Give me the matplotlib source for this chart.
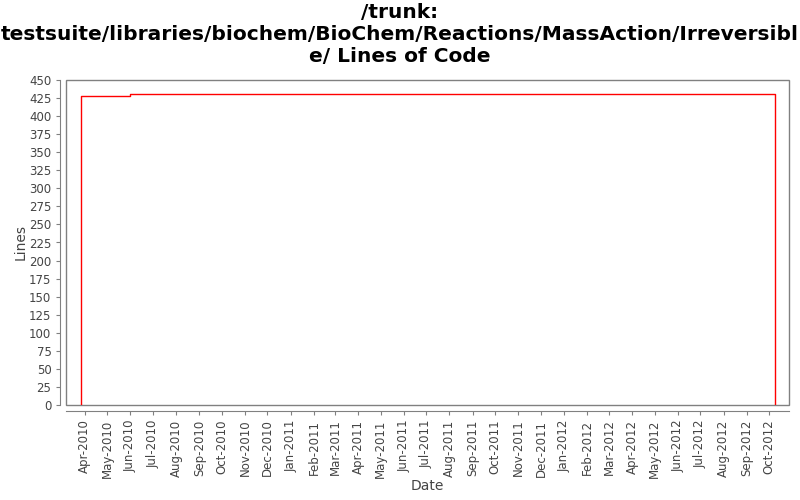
import matplotlib
matplotlib.use('Agg')
import matplotlib.pyplot as plt
import matplotlib.dates as mdates
from matplotlib.patches import Rectangle
import numpy as np
from datetime import datetime

# step data (lines of code over time)
dates = [datetime(2010, 3, 27), datetime(2010, 3, 27), datetime(2010, 5, 31),
         datetime(2012, 10, 8), datetime(2012, 10, 8)]
loc = [0, 428, 430, 430, 0]

title = ('/trunk:\ntestsuite/libraries/biochem/BioChem/Reactions/MassAction/Irreversibl\n'
         'e/ Lines of Code')

fig = plt.figure(figsize=(8, 5), dpi=100)
ax = fig.add_axes([0.0825, 0.19, 0.9035, 0.65])

ax.step(dates, loc, where='post', color='red', linewidth=1)

ax.set_xlim(datetime(2010, 3, 7), datetime(2012, 10, 27))
ax.set_ylim(0, 450)
ax.set_yticks(np.arange(0, 451, 25))

ax.xaxis.set_major_locator(mdates.MonthLocator())
ax.xaxis.set_major_formatter(mdates.DateFormatter('%b-%Y'))

gray = '#808080'
for s in ['top', 'right']:
    ax.spines[s].set_visible(False)
for s in ['left', 'bottom']:
    ax.spines[s].set_position(('outward', 4))
    ax.spines[s].set_color(gray)
ax.add_patch(Rectangle((0, 0), 1, 1, transform=ax.transAxes, fill=False,
                       edgecolor=gray, linewidth=1, clip_on=False))
ax.tick_params(colors=gray, labelcolor='#444444', labelsize=8.5, length=3)
ax.tick_params(axis='x', labelrotation=90)

ax.set_xlabel('Date', fontsize=10, color='#444444', labelpad=1)
ax.set_ylabel('Lines', fontsize=10, color='#444444', labelpad=1)
fig.text(0.5, 0.993, title, ha='center', va='top', fontsize=14.5,
         fontweight='bold', linespacing=1.2)

fig.savefig('out.png', dpi=100)
